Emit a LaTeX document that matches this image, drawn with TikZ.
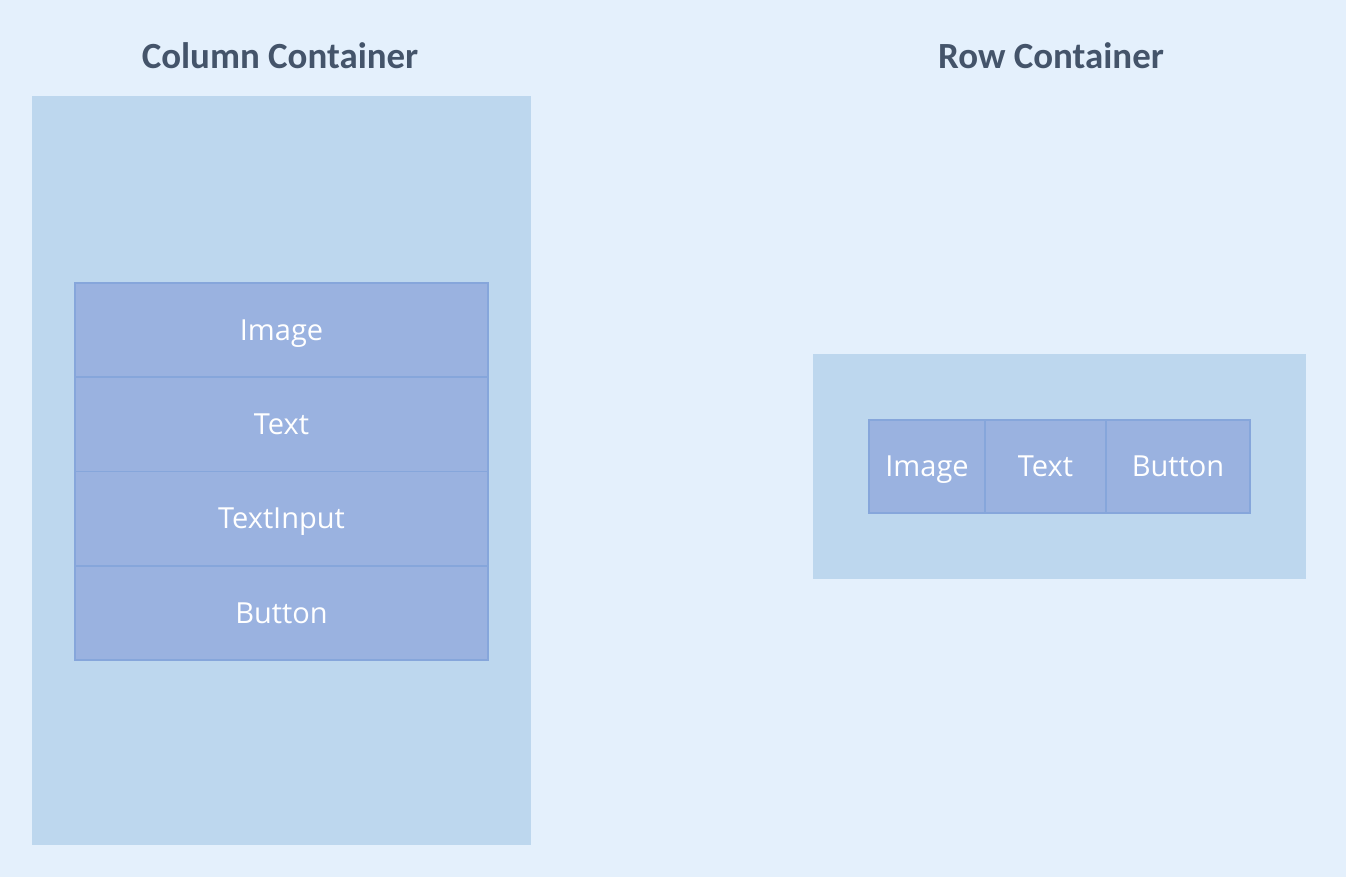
\documentclass[tikz,border=0pt]{standalone}
\usepackage{fontspec}
\setmainfont{Open Sans}
\newfontfamily\titlefont{Carlito}
\usepackage{tikz}
\usetikzlibrary{positioning}
\definecolor{bgblue}{HTML}{E4F0FC}
\definecolor{contblue}{HTML}{BDD7EE}
\definecolor{itemblue}{HTML}{9AB2E0}
\definecolor{itemline}{HTML}{86A6DB}
\definecolor{titlegray}{HTML}{44546A}

\begin{document}
\begin{tikzpicture}[x=0.02cm, y=-0.02cm,
    container/.style={fill=contblue, draw=none, inner sep=0pt},
    item/.style={fill=itemblue, draw=itemline, line width=1pt, inner sep=0pt,
                 text=white, text height=11.8pt, text depth=0pt,
                 font=\fontsize{16.5}{18}\selectfont},
    heading/.style={text=titlegray, font=\titlefont\bfseries\fontsize{21}{24}\selectfont}]
    % background
    \fill[bgblue] (0,0) rectangle (1346,877);
    \useasboundingbox (0,0) rectangle (1346,877);

    % column container
    \node[heading] (coltitle) at (280,56) {Column Container};
    \node[container, minimum width=9.98cm, minimum height=14.98cm] (colbox) at (281.5,470.5) {};
    \node[item, minimum width=8.26cm, minimum height=1.885cm] (colimage) at (281.5,330.1) {Image};
    \node[item, minimum width=8.26cm, minimum height=1.885cm] (coltext) at (281.5,424.4) {Text};
    \node[item, minimum width=8.26cm, minimum height=1.885cm] (colinput) at (281.5,518.6) {TextInput};
    \node[item, minimum width=8.26cm, minimum height=1.885cm] (colbutton) at (281.5,612.9) {Button};

    % row container
    \node[heading] (rowtitle) at (1051,56) {Row Container};
    \node[container, minimum width=9.86cm, minimum height=4.5cm] (rowbox) at (1059.5,466.5) {};
    \node[item, minimum width=2.32cm, minimum height=1.86cm] (rowimage) at (927,466.5) {Image};
    \node[item, minimum width=2.42cm, minimum height=1.86cm] (rowtext) at (1045.5,466.5) {Text};
    \node[item, minimum width=2.88cm, minimum height=1.86cm] (rowbutton) at (1178,466.5) {Button};
\end{tikzpicture}
\end{document}
